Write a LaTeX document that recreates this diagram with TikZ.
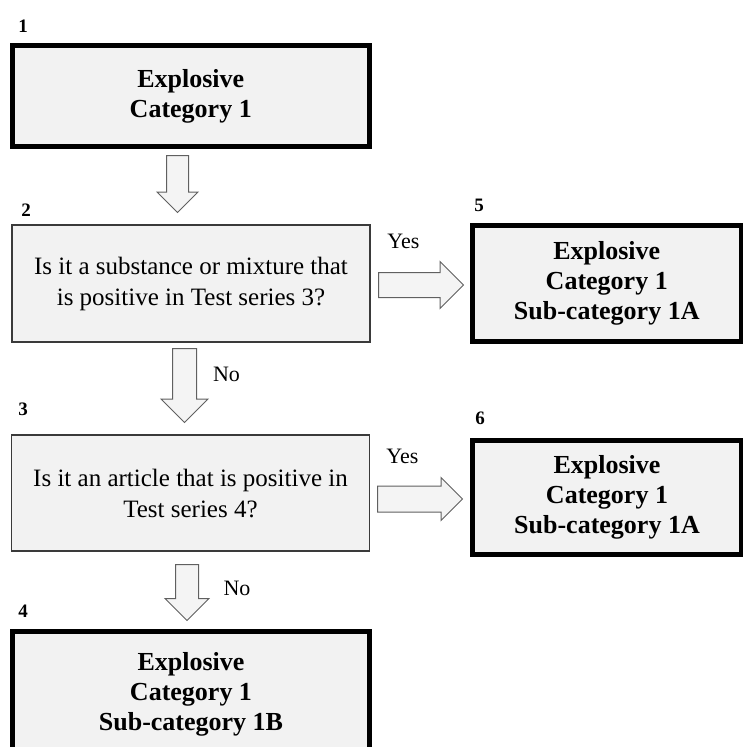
\documentclass[tikz,border=0pt]{standalone}
\usepackage{fontspec}
\setmainfont{Liberation Serif}
\usepackage{xcolor}
\usepackage{tikz}
\usetikzlibrary{shapes.arrows}
\definecolor{boxgray}{HTML}{F2F2F2}
\definecolor{askline}{HTML}{3A3A3A}
\definecolor{arrowline}{HTML}{606060}
\definecolor{arrowfill}{HTML}{F4F4F4}
\tikzstyle{catbox} = [draw,line width=5pt,fill=boxgray,align=center,inner sep=0pt,font=\fontsize{26}{30}\selectfont\bfseries]
\tikzstyle{askbox} = [draw=askline,line width=1.5pt,fill=boxgray,align=center,inner sep=0pt,font=\fontsize{25}{31}\selectfont]
\tikzstyle{stepnum} = [inner sep=0pt,font=\fontsize{19}{19}\selectfont\bfseries]
\tikzstyle{answer} = [inner sep=0pt,font=\fontsize{22}{22}\selectfont]
\tikzstyle{blockarrow} = [single arrow,draw=arrowline,fill=arrowfill,line width=1pt,single arrow head indent=0pt,anchor=tail]

\begin{document}
\begin{tikzpicture}[x=1pt,y=-1pt]
            \useasboundingbox (0,0) rectangle (743,747);
            \node[catbox, minimum width=356.5, minimum height=101] (b1) at (190.75,96) {Explosive\\Category 1};
            \node[askbox, minimum width=358, minimum height=117] (b2) at (191,283.5) {Is it a substance or mixture that\\is positive in Test series 3?};
            \node[askbox, minimum width=358, minimum height=116] (b3) at (190.5,493) {Is it an article that is positive in\\Test series 4?};
            \node[catbox, minimum width=357, minimum height=125] (b4) at (191,694) {Explosive\\Category 1\\Sub-category 1B};
            \node[catbox, minimum width=269.5, minimum height=115.5] (b5) at (606.75,283.25) {Explosive\\Category 1\\Sub-category 1A};
            \node[catbox, minimum width=269, minimum height=114] (b6) at (607,497) {Explosive\\Category 1\\Sub-category 1A};
 %           step numbers
            \node[stepnum] (n1) at (23,26) {1};
            \node[stepnum] (n2) at (26,210) {2};
            \node[stepnum] (n3) at (23,409) {3};
            \node[stepnum] (n4) at (23,611) {4};
            \node[stepnum] (n5) at (479,205.5) {5};
            \node[stepnum] (n6) at (480,418) {6};
            \node[blockarrow, shape border rotate=270, inner sep=10.5pt, minimum height=57, single arrow head extend=9.5] (a12) at (177.5,155) {};
            \node[blockarrow, shape border rotate=270, inner sep=11.5pt, minimum height=74, single arrow head extend=11.5] (a23) at (184.5,348) {};
            \node[blockarrow, shape border rotate=270, inner sep=11pt, minimum height=56, single arrow head extend=10.5] (a34) at (187,564) {};
            \node[blockarrow, inner sep=12pt, minimum height=85, single arrow head extend=11] (a25) at (378,285) {};
            \node[blockarrow, inner sep=12.5pt, minimum height=85, single arrow head extend=8.5] (a36) at (377,499) {};
            \node[answer] (yes1) at (403.5,241) {Yes};
            \node[answer] (yes2) at (402.5,456) {Yes};
            \node[answer] (no1) at (226.5,374) {No};
            \node[answer] (no2) at (237,588) {No};
        \end{tikzpicture}
\end{document}
